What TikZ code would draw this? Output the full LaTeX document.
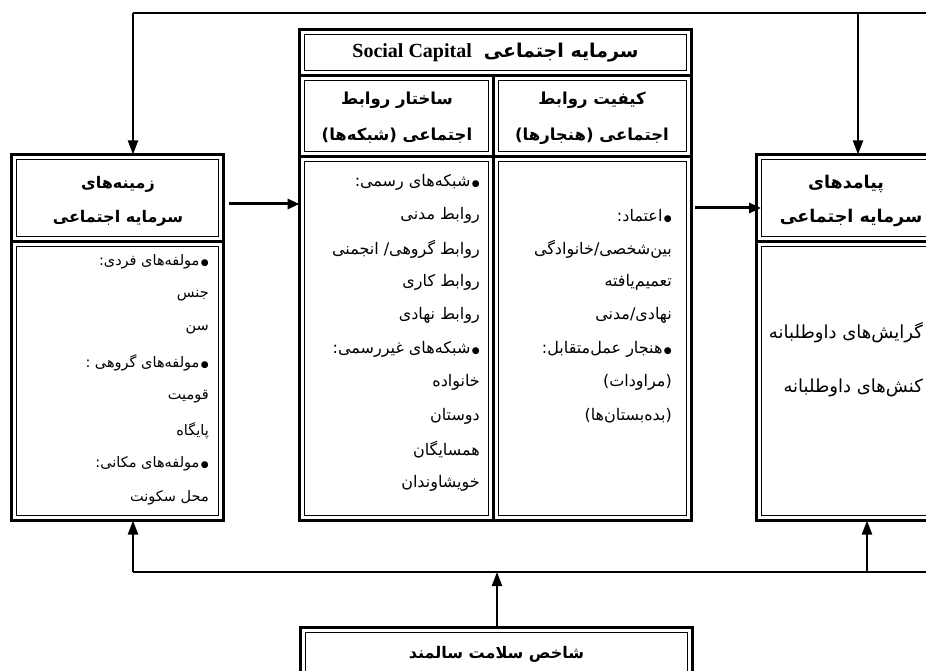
\documentclass[tikz,border=0pt]{standalone}
\usepackage{fontspec}
\usetikzlibrary{arrows.meta,calc}
\TeXXeTstate=1
\newfontfamily\arabicfont[Script=Arabic]{DejaVu Sans}
\newfontfamily\latserif{Liberation Serif}
\newcommand{\rtl}[1]{{\arabicfont\beginR #1\endR}}
\newcommand{\bul}{{\fontsize{9}{9}\selectfont ●}\hspace{1.5pt}}
\tikzset{
  thickbox/.style={draw, line width=3pt, inner sep=0pt, outer sep=0pt},
  thinline/.style={line width=1pt},
  thickline/.style={line width=3pt},
  bodyL/.style={inner sep=0pt, font=\fontsize{14.5}{16}\selectfont},
  bodyM/.style={inner sep=0pt, font=\fontsize{16}{18}\selectfont},
  bodyR/.style={inner sep=0pt, font=\fontsize{18}{20}\selectfont},
  headL/.style={inner sep=0pt, font=\fontsize{16}{18}\selectfont\bfseries},
  headM/.style={inner sep=0pt, font=\fontsize{16.5}{18}\selectfont\bfseries},
  headT/.style={inner sep=0pt, font=\fontsize{19}{21}\selectfont\bfseries},
  headR/.style={inner sep=0pt, font=\fontsize{17.5}{19}\selectfont\bfseries},
  conn/.style={line width=2pt, -{Triangle[width=10pt,length=14pt]}},
  hconn/.style={line width=3pt, -{Triangle[width=10pt,length=12pt]}},
  plain/.style={line width=2pt}
}
\begin{document}
\begin{tikzpicture}[x=1pt,y=-1pt]
\clip (0,0) rectangle (926,671);
\fill[white] (0,0) rectangle (926,671);

% ---------- outer boxes ----------
\node[thickbox, minimum width=212pt, minimum height=366pt] (L) at (117.5,337.5) {};
\node[thickbox, minimum width=391.5pt, minimum height=490.5pt] (M) at (495.25,274.75) {};
\node[thickbox, minimum width=244pt, minimum height=366pt] (R) at (878,337.5) {};
\node[thickbox, minimum width=391.5pt, minimum height=73pt] (B) at (496.25,663.5) {};

% ---------- left box cells ----------
\draw[thickline] (L.west |- 0,241) -- (L.east |- 0,241);
\draw[thinline] (16.5,159.5) rectangle (218.5,236);
\draw[thinline] (16.5,246) rectangle (218.5,515.5);

% ---------- middle box cells ----------
\draw[thickline] (M.west |- 0,76) -- (M.east |- 0,76);
\draw[thickline] (M.west |- 0,157) -- (M.east |- 0,157);
\draw[thickline] (493.5,76) -- (493.5,520);
\draw[thinline] (304.5,34.5) rectangle (686,71);
\draw[thinline] (304.5,81) rectangle (488.5,152);
\draw[thinline] (498.5,81) rectangle (686,152);
\draw[thinline] (304.5,162) rectangle (488.5,515);
\draw[thinline] (498.5,162) rectangle (686,515);

% ---------- right box cells ----------
\draw[thickline] (R.west |- 0,241) -- (R.east |- 0,241);
\draw[thinline] (761,159.5) rectangle (1000,236);
\draw[thinline] (761,246) rectangle (1000,515.5);

% ---------- bottom box cell ----------
\draw[thinline] (305.5,632) rectangle (687,700);

% ---------- texts: left ----------
\node[headL] (lh1) at (118,184) {\rtl{زمینه^^^^200cهای}};
\node[headL] (lh2) at (118,218) {\rtl{سرمایه اجتماعی}};
\foreach \t [count=\i] in {
  {\bul مولفه^^^^200cهای فردی:},
  {جنس},
  {سن},
  {\bul مولفه^^^^200cهای گروهی :},
  {قومیت},
  {پایگاه},
  {\bul مولفه^^^^200cهای مکانی:},
  {محل سکونت}}
{\node[bodyL, anchor=east] (lt\i) at (209,{262+33.7*(\i-1)}) {\rtl{\t}};}

% ---------- texts: middle ----------
\node[headT] (mh) at (495.5,53) {\rtl{سرمایه اجتماعی\hspace{12pt}\beginL{\latserif\fontsize{20}{21}\selectfont\bfseries Social Capital}\endL}};
\node[headM] (ms1) at (397,100) {\rtl{ساختار روابط}};
\node[headM] (ms2) at (397,136) {\rtl{اجتماعی (شبکه^^^^200cها)}};
\node[headM] (ms3) at (592,100) {\rtl{کیفیت روابط}};
\node[headM] (ms4) at (592,136) {\rtl{اجتماعی (هنجارها)}};
\foreach \t [count=\i] in {
  {\bul شبکه^^^^200cهای رسمی:},
  {روابط مدنی},
  {روابط گروهی/ انجمنی},
  {روابط کاری},
  {روابط نهادی},
  {\bul شبکه^^^^200cهای غیررسمی:},
  {خانواده},
  {دوستان},
  {همسایگان},
  {خویشاوندان}}
{\node[bodyM, anchor=east] (mlt\i) at (480,{182+33.45*(\i-1)}) {\rtl{\t}};}
\foreach \t [count=\i] in {
  {\bul اعتماد:},
  {بین^^^^200cشخصی/خانوادگی},
  {تعمیم^^^^200cیافته},
  {نهادی/مدنی},
  {\bul هنجار عمل^^^^200cمتقابل:},
  {(مراودات)},
  {(بده^^^^200cبستان^^^^200cها)}}
{\node[bodyM, anchor=east] (mrt\i) at (672,{215.5+33.45*(\i-1)}) {\rtl{\t}};}

% ---------- texts: right ----------
\node[headR] (rh1) at (846,184) {\rtl{پیامدهای}};
\node[headR] (rh2) at (851,218) {\rtl{سرمایه اجتماعی}};
\node[bodyR, anchor=east] (rt1) at (923,333) {\rtl{گرایش^^^^200cهای داوطلبانه}};
\node[bodyR, anchor=east] (rt2) at (923,388) {\rtl{کنش^^^^200cهای داوطلبانه}};

% ---------- texts: bottom ----------
\node[headL] (bt) at (496.5,654) {\rtl{شاخص سلامت سالمند}};

% ---------- connectors ----------
\coordinate (tE) at (940,13);
\coordinate (tl) at (133,13);
\coordinate (tr) at (858,13);
\draw[plain] (tE) -- (tl);
\draw[conn] (tl) -- (tl |- L.north);
\draw[conn] (tr) -- (tr |- R.north);

\coordinate (bE) at (940,572);
\coordinate (bl) at (133,572);
\coordinate (br) at (867,572);
\draw[plain] (bE) -- (bl);
\draw[conn] (bl) -- (bl |- L.south);
\draw[conn] (br) -- (br |- R.south);
\draw[conn] (B.north -| 497,0) -- (bl -| 497,0);

\coordinate (a1) at (229,204);
\draw[hconn] (a1) -- (a1 -| M.west);
\coordinate (a2) at (695,208);
\draw[hconn] (a2) -- ($(a2 -| R.west)+(5,0)$);
\end{tikzpicture}
\end{document}
